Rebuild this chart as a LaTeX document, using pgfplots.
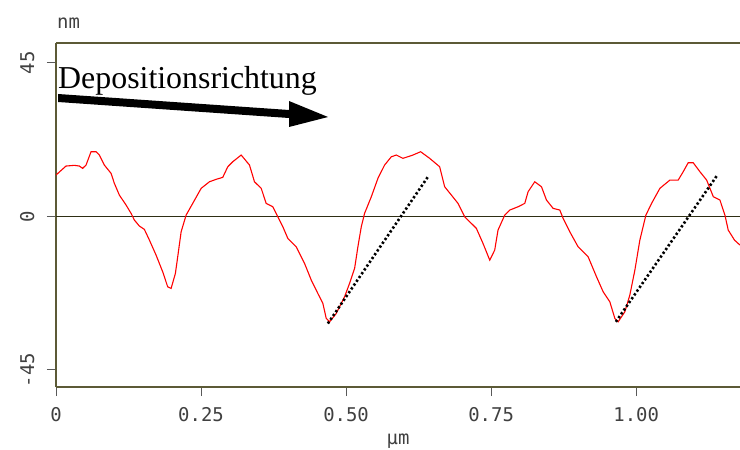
\documentclass[border=0pt]{standalone}
\usepackage{pgfplots}
\pgfplotsset{compat=1.18}
\usepackage{fontspec}
\setmainfont{Liberation Serif}
\newfontfamily\tickfont{DejaVu Sans Mono}
\definecolor{axisol}{HTML}{5C5A36}
\definecolor{zeroln}{HTML}{2E2E14}
\begin{document}
\begin{tikzpicture}
\useasboundingbox (-56bp,-63bp) rectangle (684bp,387bp);
\begin{axis}[
  scale only axis, width=684bp, height=344bp,
  xmin=0, xmax=1.179, ymin=-50, ymax=50.8,
  axis x line*=box, axis y line*=left,
  axis line style={-, draw=axisol, line width=1.6bp},
  xtick={0,0.25,0.5,0.75,1.0},
  xticklabels={0,0.25,0.50,0.75,1.00},
  ytick={-45,0,45},
  yticklabels={-45,0,45},
  /pgf/number format/assume math mode=true,
  tick align=outside, xtick pos=bottom, ytick pos=left,
  major tick length=9bp,
  tick style={draw=black!65, line width=1bp},
  ticklabel style={font=\tickfont\fontsize{19}{22}\selectfont, text=black!75},
  yticklabel style={rotate=90, anchor=south},
  xticklabel shift=8bp,
  yticklabel shift=9bp,
]
\addplot[draw=zeroln, line width=1.3bp] coordinates {(0,0) (1.179,0)};
\addplot[red, line width=1.1bp] coordinates {
(0,12.1) (0.0057,12.99) (0.0173,14.75) (0.0316,14.95) (0.0402,14.75) (0.0459,14.07)
(0.0518,15.04) (0.0604,18.94) (0.0690,18.94) (0.0747,17.97) (0.0833,15.04) (0.0949,12.61)
(0.1006,9.67) (0.1092,6.24) (0.1208,3.31) (0.1294,0.88) (0.1351,-1.08) (0.1437,-2.84)
(0.1523,-3.81) (0.1610,-6.95) (0.1725,-11.35) (0.1839,-16.24) (0.1925,-20.64) (0.1984,-21.11)
(0.2058,-16.71) (0.2098,-11.84) (0.2157,-4.51) (0.2243,0.38) (0.2357,3.81) (0.2502,8.21)
(0.2645,10.14) (0.2760,10.85) (0.2874,11.43) (0.2961,14.54) (0.3047,16.01) (0.3192,17.97)
(0.3335,15.04) (0.3421,10.14) (0.3537,8.21) (0.3623,3.81) (0.3737,2.81) (0.3823,-0.12)
(0.3910,-3.05) (0.3996,-6.45) (0.4141,-8.91) (0.4284,-13.78) (0.4400,-18.67) (0.4513,-22.57)
(0.4600,-25.51) (0.4658,-29.90) (0.4715,-30.90) (0.4831,-28.44) (0.4974,-23.57) (0.5060,-19.64)
(0.5147,-15.24) (0.5204,-8.91) (0.5262,-3.05) (0.5319,0.88) (0.5435,5.75) (0.5549,11.14)
(0.5664,15.04) (0.5780,17.47) (0.5866,17.97) (0.5980,17.00) (0.6152,17.97) (0.6285,18.94)
(0.6441,17.00) (0.6613,14.54) (0.6699,8.68) (0.6815,6.24) (0.6929,3.81) (0.7044,-0.12)
(0.7131,-1.58) (0.7246,-3.52) (0.7360,-7.92) (0.7476,-12.81) (0.7562,-9.88) (0.7619,-4.02)
(0.7735,0.38) (0.7821,1.85) (0.7964,2.81) (0.8080,3.81) (0.8137,7.21) (0.8252,10.14)
(0.8368,8.68) (0.8454,4.78) (0.8568,2.35) (0.8684,1.85) (0.8741,-0.59) (0.8856,-4.51)
(0.8999,-8.91) (0.9172,-11.84) (0.9317,-17.71) (0.9431,-22.10) (0.9546,-25.04) (0.9633,-29.90)
(0.9690,-30.90) (0.9805,-27.97) (0.9891,-23.07) (0.9978,-15.74) (1.0064,-6.95) (1.0168,0.38)
(1.0266,3.81) (1.0409,8.21) (1.0582,10.64) (1.0725,10.64) (1.0811,13.08) (1.0897,15.71)
(1.0984,15.71) (1.1099,13.08) (1.1215,10.64) (1.1330,5.75) (1.1444,4.78) (1.1530,0.38)
(1.1587,-4.02) (1.1695,-6.95) (1.1789,-8.41)
};
\addplot[black, line width=2.6bp, dash pattern=on 2.3bp off 2.3bp] coordinates {(0.4686,-31.4) (0.6411,11.6)};
\addplot[black, line width=2.6bp, dash pattern=on 2.3bp off 2.3bp] coordinates {(0.9650,-30.9) (1.1387,11.8)};
\end{axis}
\node[anchor=base west, inner sep=0, font=\fontsize{32}{36}\selectfont] at (2bp,298bp) {Depositionsrichtung};
\fill[black] (2bp,293bp) -- (233bp,277bp) -- (233bp,286bp) -- (272bp,270bp) -- (233bp,260bp) -- (233bp,269bp) -- (2bp,285bp) -- cycle;
\node[anchor=base west, inner sep=0, font=\tickfont\fontsize{19}{22}\selectfont, text=black!75] at (1bp,358bp) {nm};
\node[anchor=base, inner sep=0, font=\tickfont\fontsize{19}{22}\selectfont, text=black!75] at (342bp,-57bp) {µm};
\end{tikzpicture}
\end{document}
